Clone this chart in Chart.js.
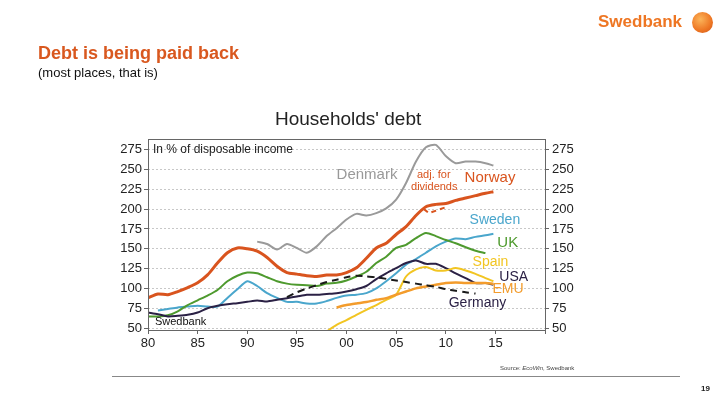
<!DOCTYPE html>
<html>
<head>
<meta charset="utf-8">
<script src="https://cdn.jsdelivr.net/npm/chart.js@4"></script>
<style>
    body { margin: 0; width: 720px; height: 405px; background: #fff; position: relative; overflow: hidden;
           font-family: "Liberation Sans", Arial, sans-serif; }
    #debtChart { position: absolute; left: 0; top: 0; }
    .txt { position: absolute; white-space: nowrap; line-height: 1; }
    #logo { left: 598px; top: 13px; font-size: 17px; font-weight: bold; color: #ee7623; }
    #logoDot { position: absolute; left: 692px; top: 12px; width: 21px; height: 21px; border-radius: 50%;
               background: radial-gradient(circle at 40% 35%, #fbb45a, #ee7623 60%, #c9561a); }
    #headline { left: 38px; top: 44px; font-size: 18px; font-weight: bold; color: #d9581f; }
    #subline { left: 38px; top: 66px; font-size: 13px; color: #111; }
    #chartTitle { left: 275px; top: 109px; font-size: 19px; color: #222; }
    #rule { position: absolute; left: 112px; top: 376px; width: 568px; height: 1px; background: #888; }
    #source { left: 500px; top: 365px; font-size: 6px; color: #444; }
    #pageNo { left: 701px; top: 385px; font-size: 8px; font-weight: bold; color: #222; }
</style>
</head>
<body>
<canvas id="debtChart" width="720" height="405"></canvas>
<div class="txt" id="logo">Swedbank</div>
<div id="logoDot"></div>
<div class="txt" id="headline">Debt is being paid back</div>
<div class="txt" id="subline">(most places, that is)</div>
<div class="txt" id="chartTitle">Households' debt</div>
<div id="rule"></div>
<div class="txt" id="source">Source: <i>EcoWin</i>, Swedbank</div>
<div class="txt" id="pageNo">19</div>
<script>
// years 1980..2014 plus the last observation (late 2014)
const years = [1980, 1981, 1982, 1983, 1984, 1985, 1986, 1987, 1988, 1989,
    1990, 1991, 1992, 1993, 1994, 1995, 1996, 1997, 1998, 1999,
    2000, 2001, 2002, 2003, 2004, 2005, 2006, 2007, 2008, 2009,
    2010, 2011, 2012, 2013, 2014, 2014.8];

const norway = [88, 93, 92, 96, 101, 107, 117, 132, 145, 151,
    150, 147, 139, 128, 120, 118, 116, 115, 117, 117,
    120, 126, 138, 151, 157, 168, 178, 192, 203, 206,
    207, 211, 214, 217, 220, 222];
const denmark = [null, null, null, null, null, null, null, null, null, null,
    null, 159, 156, 149, 156, 151, 145, 153, 166, 176,
    187, 194, 192, 195, 201, 212, 233, 260, 278, 281,
    267, 258, 260, 260, 258, 255];
const sweden = [null, 72, 74, 76, 77, 78, 77, 77, 88, 99,
    109, 103, 94, 88, 83, 83, 81, 81, 84, 88,
    91, 92, 94, 100, 109, 119, 130, 137, 145, 153,
    159, 163, 162, 165, 167, 169];
const uk = [64.5, 64.5, 66, 71, 79, 85, 91, 98, 109, 116,
    120, 119, 114, 109, 106, 104.5, 104, 103, 106, 107,
    110, 115, 121, 132, 140, 151, 155, 163.5, 170, 166,
    161, 157, 152, 147.5, 144.5, null];
const usa = [69.6, 67.5, 64.6, 65.4, 66.7, 69.6, 75, 78, 80, 81.4,
    83, 84.8, 83.5, 85.6, 87.7, 89.8, 92, 92, 93, 94,
    96, 99, 103, 111.7, 119, 125.6, 132, 135.3, 131, 131,
    125.6, 119, 113, 106.7, 106.7, 104.5];
const spain = [null, null, null, null, null, null, null, null, null, null,
    null, null, null, null, null, null, null, null, 45.6, 54,
    60, 66.7, 73, 79, 85.6, 92, 115, 124, 127, 122.6,
    122.6, 125.6, 122.6, 118.4, 113, 109];
const emu = [null, null, null, null, null, null, null, null, null, null,
    null, null, null, null, null, null, null, null, null, 76,
    79, 81, 82.7, 85.6, 87.7, 92, 96, 100, 102.4, 104.5,
    106.7, 107.5, 106.7, 106.7, 106.7, 105.8];
const germany = [null, null, null, null, null, null, null, null, null, null,
    null, null, null, null, 89, 95, 100, 104, 108, 111,
    114, 116, 115, 114, 112, 110, 108, 106, 104, 102,
    99, 97, 95, 93.5, null, null];

// Norway adjusted for dividends (short dashed piece)
const norwayAdjYears = [2007.8, 2008.3, 2009.9];
const norwayAdj = [200, 195, 202];

const yTicks = [50, 75, 100, 125, 150, 175, 200, 225, 250, 275];

// text put on the plot: [text, year, value, colour, font size]
const seriesLabels = [
    ['In % of disposable income', 1980.5, 275, '#222', 12],
    ['Denmark', 1999.0, 243.5, '#999', 15],
    ['adj. for', 2007.1, 243.5, '#d9541e', 11],
    ['dividends', 2006.5, 227.5, '#d9541e', 11],
    ['Norway', 2011.9, 240, '#d9541e', 15],
    ['Sweden', 2012.4, 186.5, '#4aa6cc', 14],
    ['UK', 2015.2, 157.5, '#4e9a2e', 15],
    ['Spain', 2012.7, 133.5, '#f2c522', 14],
    ['USA', 2015.4, 114.5, '#2b2145', 14],
    ['EMU', 2014.7, 99.5, '#f39c2c', 14],
    ['Germany', 2010.3, 81, '#2b2145', 14],
    ['Swedbank', 1980.7, 58, '#111', 11]
];

function toPoints(xs, ys) {
    let pts = [];
    for (let i in xs) {
        pts.push({ x: xs[i], y: ys[i] });
    }
    return pts;
}

function lineSet(label, values, color, width, dash) {
    return {
        label: label,
        data: toPoints(years, values),
        borderColor: color,
        borderWidth: width,
        borderDash: dash || [],
        pointRadius: 0,
        tension: 0.25,
        spanGaps: false
    };
}

const labelPlugin = {
    id: 'labelPlugin',
    afterDraw(chart) {
        let ctx = chart.ctx;
        let x = chart.scales.x;
        let y = chart.scales.y;
        let a = chart.chartArea;
        ctx.save();
        ctx.strokeStyle = '#666';
        ctx.lineWidth = 1;
        ctx.strokeRect(a.left + 0.5, a.top + 0.5, a.right - a.left, a.bottom - a.top);
        ctx.textBaseline = 'middle';
        ctx.textAlign = 'left';
        for (let l of seriesLabels) {
            ctx.font = l[4] + 'px "Liberation Sans", Arial, sans-serif';
            ctx.fillStyle = l[3];
            ctx.fillText(l[0], x.getPixelForValue(l[1]), y.getPixelForValue(l[2]));
        }
        ctx.restore();
    }
};

Chart.defaults.font.family = '"Liberation Sans", Arial, sans-serif';
Chart.defaults.color = '#222';

function createDebtChart() {
    let ctx = document.getElementById('debtChart').getContext('2d');
    let myChart = new Chart(ctx, {
        type: 'line',
        data: {
            datasets: [
                lineSet('Germany', germany, '#1a1a1a', 2, [7, 5]),
                lineSet('EMU', emu, '#f39c2c', 2.5),
                lineSet('Spain', spain, '#f2c522', 2),
                lineSet('USA', usa, '#2b2145', 2),
                lineSet('UK', uk, '#4e9a2e', 2),
                lineSet('Sweden', sweden, '#4aa6cc', 2),
                lineSet('Norway', norway, '#d9541e', 3),
                lineSet('Denmark', denmark, '#9a9a9a', 2),
                {
                    label: 'Norway adj.',
                    data: toPoints(norwayAdjYears, norwayAdj),
                    borderColor: '#d9541e',
                    borderWidth: 2,
                    borderDash: [5, 4],
                    pointRadius: 0
                }
            ]
        },
        options: {
            responsive: false,
            animation: false,
            layout: { padding: { top: 139, left: 0, right: 0, bottom: 0 } },
            plugins: {
                legend: { display: false },
                tooltip: { enabled: false }
            },
            scales: {
                x: {
                    type: 'linear',
                    min: 1980,
                    max: 2020,
                    afterFit(scale) { scale.height = 75; },
                    ticks: {
                        stepSize: 5,
                        font: { size: 13 },
                        padding: 2,
                        maxRotation: 0,
                        callback: v => v > 2015 ? '' : String(v).slice(2)
                    },
                    grid: { drawOnChartArea: false, tickLength: 4, color: '#666' },
                    border: { display: false }
                },
                y: {
                    min: 47.5,
                    max: 288.5,
                    afterFit(scale) { scale.width = 148; },
                    afterBuildTicks(scale) { scale.ticks = yTicks.map(v => ({ value: v })); },
                    ticks: { font: { size: 13 }, padding: 2 },
                    grid: { color: '#c8c8c8', tickColor: '#666', tickLength: 4, tickBorderDash: [] },
                    border: { display: false, dash: [2, 2] }
                },
                y2: {
                    position: 'right',
                    min: 47.5,
                    max: 288.5,
                    afterFit(scale) { scale.width = 175; },
                    afterBuildTicks(scale) { scale.ticks = yTicks.map(v => ({ value: v })); },
                    ticks: { font: { size: 13 }, padding: 3 },
                    grid: { drawOnChartArea: false, tickColor: '#666', tickLength: 4 },
                    border: { display: false }
                }
            }
        },
        plugins: [labelPlugin]
    });
}

createDebtChart();
</script>
</body>
</html>
